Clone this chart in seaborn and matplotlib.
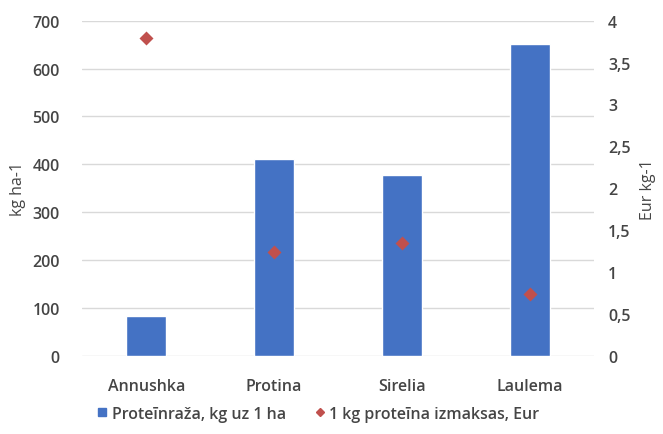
import matplotlib
matplotlib.use("Agg")
import matplotlib.pyplot as plt
from matplotlib.lines import Line2D
import seaborn as sns
import pandas as pd

# Varieties and their values
varieties = ["Annushka", "Protina", "Sirelia", "Laulema"]
protein_yield = [82, 412, 378, 651]          # kg ha-1
protein_cost = [3.79, 1.24, 1.35, 0.74]      # Eur kg-1

bar_label = "Proteīnraža, kg uz 1 ha"
point_label = "1 kg proteīna izmaksas, Eur"

left_ticks = [0, 100, 200, 300, 400, 500, 600, 700]
right_ticks = [0, 0.5, 1, 1.5, 2, 2.5, 3, 3.5, 4]
right_ticklabels = ["0", "0,5", "1", "1,5", "2", "2,5", "3", "3,5", "4"]

df = pd.DataFrame({"variety": varieties, "yield": protein_yield, "cost": protein_cost})

sns.set_theme(style="white")
plt.rcParams["font.family"] = ["Open Sans", "DejaVu Sans"]
plt.rcParams["font.weight"] = "semibold"

BLUE = "#4472C4"
RED = "#C0504D"
TXT = "#454545"
FS = 11.5

fig = plt.figure(figsize=(6.63, 4.35), dpi=100)
ax = fig.add_axes([0.124, 0.180, 0.772, 0.770])

sns.barplot(data=df, x="variety", y="yield", color=BLUE, width=0.31,
            saturation=1, ax=ax, zorder=2)
ax.set_ylim(0, 700)
ax.set_yticks(left_ticks)
ax.set_xlim(-0.5, 3.5)
ax.grid(axis="y", color="#D9D9D9", linewidth=1, zorder=0)
ax.set_axisbelow(True)
for s in ax.spines.values():
    s.set_visible(False)
ax.set_xlabel("")
ax.set_ylabel("kg ha-1", color=TXT, fontsize=FS, labelpad=5)
ax.tick_params(axis="both", length=0, labelsize=FS, colors=TXT)
ax.tick_params(axis="x", pad=16)
ax.tick_params(axis="y", pad=16)

ax2 = ax.twinx()
sns.pointplot(data=df, x="variety", y="cost", color=RED, marker="D",
              linestyle="none", markersize=5, ax=ax2)
ax2.set_ylim(0, 4)
ax2.set_xlim(-0.5, 3.5)
ax2.set_yticks(right_ticks)
ax2.set_yticklabels(right_ticklabels)
for s in ax2.spines.values():
    s.set_visible(False)
ax2.set_ylabel("Eur kg-1", color=TXT, fontsize=FS, labelpad=7)
ax2.tick_params(axis="y", length=0, labelsize=FS, colors=TXT, pad=10)
ax2.grid(False)

handles = [
    Line2D([], [], marker="s", linestyle="none", color=BLUE, markersize=6),
    Line2D([], [], marker="D", linestyle="none", color=RED, markersize=4),
]
fig.legend(handles, [bar_label, point_label], loc="lower center",
           bbox_to_anchor=(0.478, -0.005), ncol=2, frameon=False,
           fontsize=FS, labelcolor=TXT, handletextpad=0.1,
           columnspacing=1.6, handlelength=1.0)

fig.savefig("out.png", dpi=100)
